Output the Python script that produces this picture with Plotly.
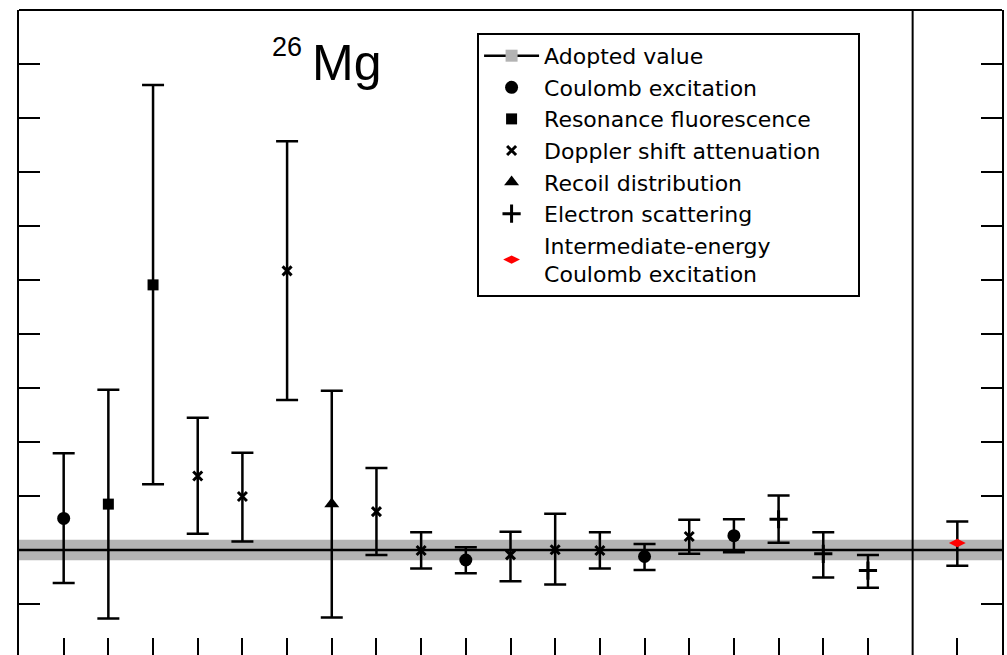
import plotly.graph_objects as go

# ---------------- data ----------------
x_pos = [1, 2, 3, 4, 5, 6, 7, 8, 9, 10, 11, 12, 13, 14, 15, 16, 17, 18, 19, 21]
method = [
    "Coulomb excitation", "Resonance fluorescence", "Resonance fluorescence",
    "Doppler shift attenuation", "Doppler shift attenuation", "Doppler shift attenuation",
    "Recoil distribution", "Doppler shift attenuation", "Doppler shift attenuation",
    "Coulomb excitation", "Doppler shift attenuation", "Doppler shift attenuation",
    "Doppler shift attenuation", "Coulomb excitation", "Doppler shift attenuation",
    "Coulomb excitation", "Electron scattering", "Electron scattering",
    "Electron scattering", "Intermediate-energy Coulomb excitation",
]
value = [0.585, 0.85, 4.91, 1.37, 0.99, 5.17, 0.85, 0.71, -0.01, -0.185,
         -0.09, 0.005, -0.01, -0.12, 0.25, 0.265, 0.57, -0.07, -0.38, 0.13]
upper = [1.79, 2.97, 8.61, 2.45, 1.80, 7.57, 2.95, 1.52, 0.33, 0.05,
         0.34, 0.67, 0.33, 0.11, 0.56, 0.57, 1.01, 0.33, -0.09, 0.53]
lower = [-0.61, -1.27, 1.22, 0.30, 0.16, 2.78, -1.25, -0.09, -0.34, -0.43,
         -0.58, -0.64, -0.34, -0.37, -0.07, -0.04, 0.135, -0.51, -0.70, -0.29]

adopted_value = 0.0
adopted_unc = 0.19
x_range = [0, 22]
divider_x = 20
y_ticks = [-1, 0, 1, 2, 3, 4, 5, 6, 7, 8, 9, 10]

methods_order = [
    "Coulomb excitation", "Resonance fluorescence", "Doppler shift attenuation",
    "Recoil distribution", "Electron scattering", "Intermediate-energy Coulomb excitation",
]
legend_names = {
    "Resonance fluorescence": "Resonance fluorescence" + "&nbsp;" * 6,
    "Intermediate-energy Coulomb excitation": "Intermediate-energy<br>Coulomb excitation",
}
styles = {
    "Coulomb excitation": dict(symbol="circle", size=13, color="black", line=dict(width=0)),
    "Resonance fluorescence": dict(symbol="square", size=11, color="black", line=dict(width=0)),
    "Doppler shift attenuation": dict(symbol="x-thin", size=9, color="black",
                                      line=dict(width=3, color="black")),
    "Recoil distribution": dict(symbol="triangle-up", size=13, color="black", line=dict(width=0)),
    "Electron scattering": dict(symbol="cross-thin", size=13, color="black",
                                line=dict(width=3, color="black")),
    "Intermediate-energy Coulomb excitation": dict(symbol="diamond-wide", size=12, color="#ff0000",
                                                   line=dict(width=0)),
}

fig = go.Figure()

# adopted band
fig.add_trace(go.Scatter(x=x_range, y=[adopted_value - adopted_unc] * 2, mode="lines",
                         line=dict(width=0, color="#b3b3b3"), showlegend=False, hoverinfo="skip"))
fig.add_trace(go.Scatter(x=x_range, y=[adopted_value + adopted_unc] * 2, mode="lines",
                         line=dict(width=0, color="#b3b3b3"), fill="tonexty",
                         fillcolor="#b3b3b3", showlegend=False, hoverinfo="skip"))
# adopted line
fig.add_trace(go.Scatter(x=x_range, y=[adopted_value] * 2, mode="lines",
                         line=dict(width=2.5, color="black"), showlegend=False))
# legend proxy for adopted value
fig.add_trace(go.Scatter(x=[None], y=[None], mode="lines+markers", name="Adopted value",
                         line=dict(width=2.5, color="black"),
                         marker=dict(symbol="square", size=12, color="#b3b3b3")))

for m in methods_order:
    idx = [i for i, mm in enumerate(method) if mm == m]
    xs = [x_pos[i] for i in idx]
    ys = [value[i] for i in idx]
    ep = [upper[i] - value[i] for i in idx]
    em = [value[i] - lower[i] for i in idx]
    fig.add_trace(go.Scatter(
        x=xs, y=ys, mode="markers", name=legend_names.get(m, m),
        marker=styles[m],
        error_y=dict(type="data", array=ep, arrayminus=em, symmetric=False,
                     color="black", thickness=2.5, width=11),
    ))

fig.update_layout(
    width=1007, height=655,
    margin=dict(l=19, r=5, t=10, b=0),
    paper_bgcolor="white", plot_bgcolor="white",
    showlegend=True,
    legend=dict(x=0.466, y=0.9645, xanchor="left", yanchor="top",
                bordercolor="black", borderwidth=2, bgcolor="white",
                font=dict(family="DejaVu Sans", size=22, color="black"),
                tracegroupgap=0, itemsizing="trace", traceorder="normal",
                itemwidth=55),
    xaxis=dict(range=x_range, showgrid=False, zeroline=False, showline=False,
               ticks="inside", tickvals=[v for v in x_pos], ticklen=17, tickwidth=2,
               tickcolor="black", showticklabels=False),
    yaxis=dict(range=[-1.944, 10], showgrid=False, zeroline=False, showline=True,
               linewidth=2, linecolor="black", mirror="ticks",
               ticks="inside", tickvals=y_ticks, ticklen=21, tickwidth=2,
               tickcolor="black", showticklabels=False),
    shapes=[
        dict(type="line", xref="paper", yref="paper", x0=0, x1=1, y0=1, y1=1,
             line=dict(color="black", width=2)),
        dict(type="line", xref="x", yref="paper", x0=divider_x, x1=divider_x, y0=0, y1=1,
             line=dict(color="black", width=2)),
    ],
    annotations=[
        dict(text="26", xref="paper", yref="paper", x=0.2554, y=0.9434,
             xanchor="left", yanchor="middle", showarrow=False,
             font=dict(family="Liberation Sans", size=27, color="black")),
        dict(text="Mg", xref="paper", yref="paper", x=0.2961, y=0.9178,
             xanchor="left", yanchor="middle", showarrow=False,
             font=dict(family="Liberation Sans", size=50, color="black")),
    ],
)

fig.write_html("out.html")
